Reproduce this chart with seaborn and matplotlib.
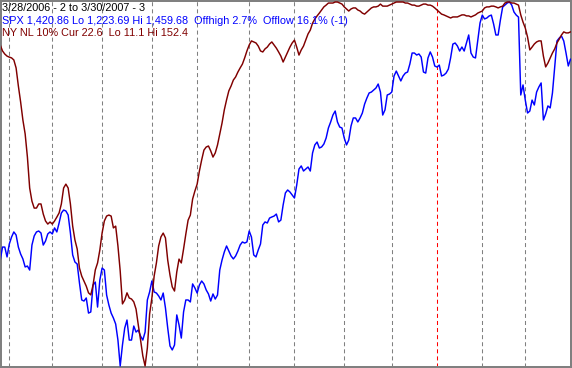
import numpy as np
import pandas as pd
import matplotlib
matplotlib.use("Agg")
import matplotlib.pyplot as plt
import seaborn as sns

# ---------------- data ----------------
start_date = "2006-03-28"
end_date = "2007-03-30"
holidays = ["2006-04-14", "2006-05-29", "2006-07-04", "2006-09-04", "2006-11-23",
            "2006-12-25", "2007-01-01", "2007-01-02", "2007-01-15", "2007-02-19"]

spx = [1292.4,1300.8,1300.8,1294.4,1302.8,1307.3,1310.6,1308.6,1300.8,1296.3,
       1293.1,1287.9,1288.5,1285.9,1302.1,1308.0,1310.6,1311.2,1309.9,1302.1,
       1304.7,1309.3,1310.6,1309.3,1313.2,1310.6,1316.4,1322.9,1324.8,1324.2,
       1321.6,1309.9,1295.7,1291.1,1289.8,1277.5,1266.5,1265.8,1267.8,1258.0,
       1258.7,1276.2,1278.1,1261.9,1279.4,1287.2,1285.9,1269.7,1263.2,1258.0,
       1254.8,1250.9,1240.5,1223.7,1237.3,1248.3,1253.5,1240.5,1240.5,1249.6,
       1245.7,1247.0,1243.1,1240.5,1245.7,1266.5,1271.7,1278.8,1271.7,1271.0,
       1269.1,1266.5,1271.0,1261.3,1248.3,1236.7,1234.1,1237.3,1256.8,1250.3,
       1241.8,1258.7,1266.5,1266.5,1265.2,1276.9,1274.3,1271.0,1276.2,1278.8,
       1276.9,1273.0,1270.4,1265.8,1270.4,1267.1,1269.7,1285.9,1292.4,1297.6,
       1301.5,1298.2,1295.0,1293.1,1295.0,1298.2,1302.1,1304.1,1303.4,1304.1,
       1311.2,1307.3,1295.7,1294.4,1298.9,1302.8,1315.1,1317.1,1316.4,1319.6,
       1320.3,1320.9,1322.2,1317.1,1318.3,1328.1,1335.9,1337.8,1336.5,1334.6,
       1332.6,1341.0,1351.4,1353.4,1350.1,1351.4,1352.7,1350.1,1361.8,1367.0,
       1368.9,1365.0,1365.7,1367.6,1371.5,1378.0,1381.9,1386.4,1389.0,1381.9,
       1378.6,1378.0,1371.5,1367.0,1370.2,1379.3,1384.5,1384.5,1381.9,1384.5,
       1387.7,1393.5,1397.4,1400.7,1401.3,1402.6,1403.9,1406.5,1401.3,1386.4,
       1389.7,1399.4,1400.0,1401.3,1411.7,1414.9,1411.7,1408.5,1411.7,1413.6,
       1414.3,1419.5,1426.6,1426.6,1425.3,1426.0,1424.0,1414.3,1413.6,1423.4,
       1427.3,1424.0,1418.2,1417.5,1418.8,1411.7,1412.3,1413.6,1416.2,1423.4,
       1432.4,1433.1,1431.2,1427.9,1430.5,1427.9,1433.1,1438.3,1426.6,1424.0,
       1423.4,1435.0,1446.1,1451.2,1448.7,1449.3,1450.6,1451.2,1445.4,1438.3,
       1438.3,1448.0,1456.4,1457.7,1459.0,1459.7,1457.7,1453.2,1451.2,1449.9,
       1399.4,1405.9,1396.1,1387.7,1389.0,1396.1,1392.9,1401.3,1404.6,1407.2,
       1383.2,1387.1,1392.3,1391.0,1400.7,1417.5,1434.4,1436.3,1437.6,1434.4,
       1426.6,1418.2,1422.7,1420.86]

nyse_nl = [27.8,30.1,31.3,32.1,32.5,32.8,33.6,36.7,43.7,49.9,
           56.9,62.3,71.3,83.3,88.4,91.1,91.1,89.5,89.5,93.4,
           96.1,97.3,96.5,97.3,96.1,94.6,93.0,89.5,83.3,81.8,
           83.3,89.5,98.1,103.5,107.0,114.4,117.5,119.4,121.4,124.0,
           124.8,121.0,115.1,112.4,107.4,100.8,96.1,94.2,93.8,94.2,
           98.8,98.1,105.8,115.5,128.3,126.8,124.0,126.0,126.4,127.5,
           130.3,136.5,142.3,148.5,152.4,145.4,132.2,126.0,117.5,112.4,
           105.8,102.3,100.8,102.7,111.3,117.1,121.7,123.3,115.9,110.9,
           112.4,107.0,101.2,95.8,93.8,87.6,84.5,81.8,76.7,72.4,
           68.6,67.4,67.0,68.9,71.3,69.7,66.6,62.3,58.1,53.0,
           49.1,45.6,43.7,41.4,40.2,38.3,36.7,35.2,32.8,30.1,
           27.8,26.2,26.6,27.0,28.2,30.1,30.5,29.3,28.6,27.4,
           26.6,27.8,29.0,30.5,32.1,34.4,32.5,30.5,28.6,27.0,
           25.9,28.6,31.7,29.7,28.2,25.9,23.5,22.0,19.3,17.7,
           16.5,15.4,14.2,13.0,12.3,11.5,11.5,11.5,11.1,11.1,
           11.5,11.9,13.0,13.8,14.6,13.8,13.4,13.4,14.2,14.6,
           15.4,15.8,15.0,14.2,13.4,13.0,13.0,12.7,11.9,12.7,
           12.7,12.7,12.3,11.9,11.5,11.1,11.1,11.1,11.1,11.5,
           11.5,11.9,12.3,12.3,12.7,12.7,12.3,11.9,11.9,12.3,
           12.3,12.7,13.4,14.2,15.0,15.8,16.1,16.5,16.9,17.3,
           16.9,16.9,16.9,16.5,16.1,16.1,16.5,16.5,16.9,16.5,
           16.1,15.4,15.0,14.6,13.4,13.0,13.0,12.7,12.7,13.0,
           13.4,13.0,12.7,11.5,11.1,11.1,11.5,11.5,11.9,12.3,
           16.1,18.9,21.2,24.7,29.7,28.6,27.4,26.6,26.2,26.2,
           32.1,36.3,34.8,32.8,30.9,29.3,27.0,25.5,23.9,22.7,
           23.1,23.1,22.7,22.6]

header_line = "3/28/2006 - 2 to 3/30/2007 - 3"
spx_line = "SPX 1,420.86 Lo 1,223.69 Hi 1,459.68  Offhigh 2.7%  Offlow 16.1% (-1)"
nl_line = "NY NL 10% Cur 22.6  Lo 11.1 Hi 152.4"

# ---------------- build ----------------
dates = pd.bdate_range(start_date, end_date)
dates = dates[~dates.isin(pd.to_datetime(holidays))]
df = pd.DataFrame({"day": np.arange(len(dates)), "date": dates,
                   "spx": spx, "nl": nyse_nl})

sns.set_style("white")
plt.rcParams["font.family"] = ["Liberation Sans", "DejaVu Sans"]
plt.rcParams["lines.scale_dashes"] = False

W, H = 572, 368
fig = plt.figure(figsize=(W / 100, H / 100), dpi=100)
fig.patch.set_facecolor("white")
ax = fig.add_axes([1 / W, 1 / H, 570 / W, 366 / H])
ax.set_facecolor("white")

# month separators
months = df["date"].dt.to_period("M")
starts = df.index[months != months.shift(1)][1:]
for i in starts:
    new_year = df.loc[i, "date"].year != df.loc[i - 1, "date"].year
    ax.axvline(df.loc[i, "day"], color="#FF0000" if new_year else "#808080",
               lw=0.75, dashes=(2.9, 2.2), zorder=1)

sns.lineplot(data=df, x="day", y="spx", ax=ax, color="#0000FF", lw=1.05, zorder=3)
ax.set_xlim(0.33, 252.2)
ax.set_ylim(1223.04, 1460.33)

ax2 = ax.twinx()
sns.lineplot(data=df, x="day", y="nl", ax=ax2, color="#800000", lw=1.05, zorder=2)
ax2.set_ylim(152.79, 10.71)
ax2.set_xlim(0.33, 252.2)

for a in (ax, ax2):
    a.set_xticks([])
    a.set_yticks([])
    a.set_xlabel("")
    a.set_ylabel("")
for s in ax.spines.values():
    s.set_color("#808080")
    s.set_linewidth(1.44)
for s in ax2.spines.values():
    s.set_visible(False)

fs = 7.8
fig.text(1.5 / W, 1 - 11 / H, header_line, color="black", fontsize=fs, va="baseline", ha="left")
fig.text(1.5 / W, 1 - 23.5 / H, spx_line, color="#0000FF", fontsize=fs, va="baseline", ha="left")
fig.text(1.5 / W, 1 - 36 / H, nl_line, color="#800000", fontsize=fs, va="baseline", ha="left")

fig.savefig("out.png", dpi=100, facecolor="white")
